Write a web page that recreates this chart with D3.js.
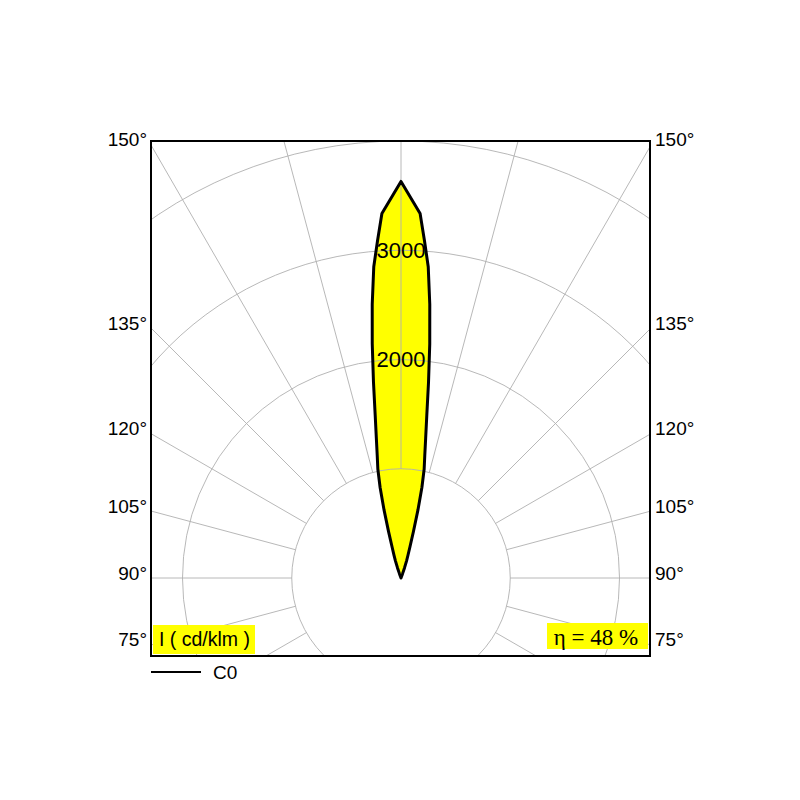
<!DOCTYPE html>
<html>
<head>
<meta charset="utf-8">
<script src="https://cdn.jsdelivr.net/npm/d3@7"></script>
<style>
  html, body { margin: 0; padding: 0; background: #fff; }
  svg { display: block; }
</style>
</head>
<body>
<svg id="chart" width="800" height="800"></svg>
<script>
// ---- data ----
// photometric angle gamma (180 = straight up), C0 plane intensities in cd/klm
const gammaAngles = [180, 177, 176, 175, 174, 173, 172, 171, 170, 169, 168, 167, 166, 165, 164, 163, 162, 161, 160, 159];
const intensityC0 = [3630, 3340, 3090, 2860, 2520, 2160, 1810, 1510, 1300, 1140, 1020, 850, 640, 440, 300, 220, 165, 100, 40, 0];
const ringValues = [1000, 2000, 3000, 4000];
const ringLabels = ["2000", "3000"];
const spokeAngles = [45, 60, 75, 90, 105, 120, 135, 150, 165, 180];
const angleLabels = [75, 90, 105, 120, 135, 150];
const unitLabel = "I ( cd/klm )";
const efficiencyLabel = "η = 48 %";
const legendLabel = "C0";

// ---- layout ----
const box = { x0: 151, y0: 141, x1: 650, y1: 656 };
const cx = 401, cy = 578;
const sans = "'Liberation Sans', Arial, Helvetica, sans-serif";
const serif = "'Liberation Serif', 'Times New Roman', serif";

const svg = d3.select("#chart");
const r = d3.scaleLinear().domain([0, 4000]).range([0, 437]);
const toRad = g => (180 - g) * Math.PI / 180; // d3 radial angle: 0 = up

svg.append("defs").append("clipPath").attr("id", "boxclip")
  .append("rect")
  .attr("x", box.x0).attr("y", box.y0)
  .attr("width", box.x1 - box.x0).attr("height", box.y1 - box.y0);

const plot = svg.append("g").attr("clip-path", "url(#boxclip)");
const center = plot.append("g").attr("transform", `translate(${cx},${cy})`);

// curve points: right side, then mirrored left side
const pts = gammaAngles.map((g, i) => ({ a: toRad(g), v: intensityC0[i] }));
const mirror = pts.slice().reverse().map(p => ({ a: -p.a, v: p.v }));
const curvePts = pts.concat(mirror.slice(1, mirror.length - 1));

const radial = d3.lineRadial()
  .angle(d => d.a)
  .radius(d => r(d.v))
  .curve(d3.curveLinearClosed);

// fill
center.append("path")
  .attr("d", radial(curvePts))
  .attr("fill", "#ffff00")
  .attr("stroke", "none");

// grid rings
center.selectAll("circle.ring").data(ringValues).join("circle")
  .attr("class", "ring")
  .attr("r", d => r(d))
  .attr("fill", "none")
  .attr("stroke", "#b0b0b0")
  .attr("stroke-width", 0.9);

// spokes both sides
const spokeData = [];
spokeAngles.forEach(g => {
  spokeData.push(toRad(g));
  if (g !== 180 && g !== 0) spokeData.push(-toRad(g));
});
center.selectAll("line.spoke").data(spokeData).join("line")
  .attr("class", "spoke")
  .attr("x1", a => r(1000) * Math.sin(a))
  .attr("y1", a => -r(1000) * Math.cos(a))
  .attr("x2", a => r(8000) * Math.sin(a))
  .attr("y2", a => -r(8000) * Math.cos(a))
  .attr("stroke", "#b0b0b0")
  .attr("stroke-width", 0.9);

// curve outline
center.append("path")
  .attr("d", radial(curvePts))
  .attr("fill", "none")
  .attr("stroke", "#000")
  .attr("stroke-width", 3)
  .attr("stroke-linejoin", "round");

// ring labels
center.selectAll("text.ringlabel").data(ringLabels).join("text")
  .attr("class", "ringlabel")
  .attr("x", 0)
  .attr("y", d => -r(+d))
  .attr("dy", "0.36em")
  .attr("text-anchor", "middle")
  .attr("font-family", sans)
  .attr("font-size", 22)
  .attr("fill", "#000")
  .text(d => d);

// frame
svg.append("rect")
  .attr("x", box.x0).attr("y", box.y0)
  .attr("width", box.x1 - box.x0).attr("height", box.y1 - box.y0)
  .attr("fill", "none").attr("stroke", "#000").attr("stroke-width", 2);

// angle labels on both sides
const halfW = cx - box.x0;
angleLabels.forEach(g => {
  const gr = g * Math.PI / 180;
  const y = cy + halfW * Math.cos(gr) / Math.sin(gr) + 1.5;
  svg.append("text")
    .attr("x", box.x0 - 4).attr("y", y)
    .attr("text-anchor", "end")
    .attr("font-family", sans).attr("font-size", 19).attr("fill", "#000")
    .text(g + "°");
  svg.append("text")
    .attr("x", box.x1 + 5).attr("y", y)
    .attr("text-anchor", "start")
    .attr("font-family", sans).attr("font-size", 19).attr("fill", "#000")
    .text(g + "°");
});

// unit box (bottom-left)
svg.append("rect")
  .attr("x", 153).attr("y", 625).attr("width", 102).attr("height", 29)
  .attr("fill", "#ffff00");
svg.append("text")
  .attr("x", 159).attr("y", 646)
  .attr("font-family", sans).attr("font-size", 19.5).attr("fill", "#000")
  .text(unitLabel);

// efficiency box (bottom-right)
svg.append("rect")
  .attr("x", 547).attr("y", 623).attr("width", 101).attr("height", 26)
  .attr("fill", "#ffff00");
svg.append("text")
  .attr("x", 596).attr("y", 645)
  .attr("text-anchor", "middle")
  .attr("font-family", serif).attr("font-size", 23).attr("fill", "#000")
  .text(efficiencyLabel);

// legend
svg.append("line")
  .attr("x1", 151).attr("x2", 201).attr("y1", 672).attr("y2", 672)
  .attr("stroke", "#000").attr("stroke-width", 2);
svg.append("text")
  .attr("x", 213).attr("y", 679)
  .attr("font-family", sans).attr("font-size", 19).attr("fill", "#000")
  .text(legendLabel);
</script>
</body>
</html>
